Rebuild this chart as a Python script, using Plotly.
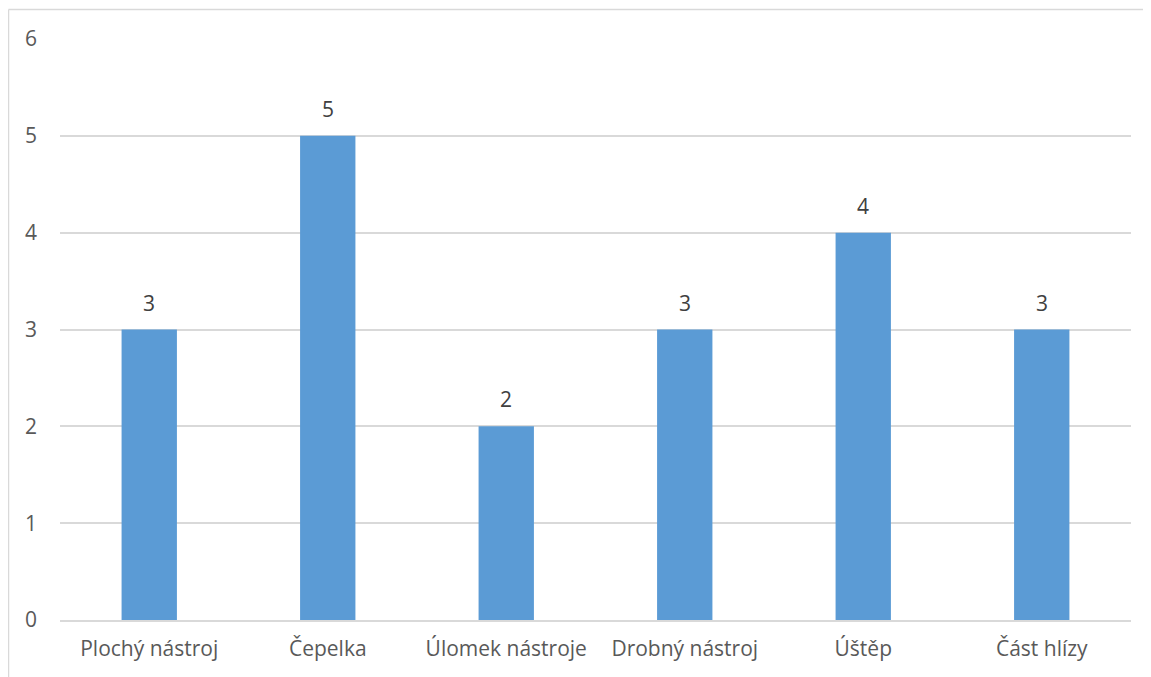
import plotly.graph_objects as go

categories = ["Plochý nástroj", "Čepelka", "Úlomek nástroje", "Drobný nástroj", "Úštěp", "Část hlízy"]
values = [3, 5, 2, 3, 4, 3]
y_ticks = [0, 1, 2, 3, 4, 5, 6]

FONT = "Open Sans, Liberation Sans, sans-serif"
FS = 21

fig = go.Figure()
fig.add_trace(go.Bar(
    x=categories, y=values,
    marker=dict(color="#5B9BD5", line=dict(width=0)),
    hoverinfo="skip",
))

for c, v in zip(categories, values):
    fig.add_annotation(x=c, y=v, text=str(v), showarrow=False,
                       yanchor="bottom", yshift=11,
                       font=dict(family=FONT, size=FS, color="#404040"))

# page body adds an 8px offset
OFF = 8
W, H = 1151 - OFF, 677 - OFF
L, R, T, B = 60 - OFF, 20, 39 - OFF, 57
pw, ph = W - L - R, H - T - B

def px_x(x):
    return (x - OFF - L) / pw

def px_y(y):
    return (H - B - (y - OFF)) / ph

border = dict(color="#D9D9D9", width=1.5)
fig.add_shape(type="line", xref="paper", yref="paper",
              x0=px_x(8.5), x1=px_x(1151), y0=px_y(9.5), y1=px_y(9.5), line=border)
fig.add_shape(type="line", xref="paper", yref="paper",
              x0=px_x(8.5), x1=px_x(8.5), y0=px_y(9.5), y1=px_y(677), line=border)

fig.update_layout(
    width=W, height=H,
    margin=dict(l=L, r=R, t=T, b=B),
    plot_bgcolor="white", paper_bgcolor="white",
    bargap=0.69,
    showlegend=False,
    font=dict(family=FONT, size=FS, color="#595959"),
    xaxis=dict(showgrid=False, showline=True, linecolor="#D9D9D9", linewidth=1.5,
               ticks="", ticklabelstandoff=9,
               tickfont=dict(family=FONT, size=FS, color="#595959")),
    yaxis=dict(range=[0, 6], tickvals=y_ticks, showgrid=True, gridcolor="#D9D9D9",
               gridwidth=1.5, zeroline=False, showline=False, ticks="",
               ticklabelstandoff=22,
               tickfont=dict(family=FONT, size=FS, color="#595959")),
)

fig.write_html("out.html")
